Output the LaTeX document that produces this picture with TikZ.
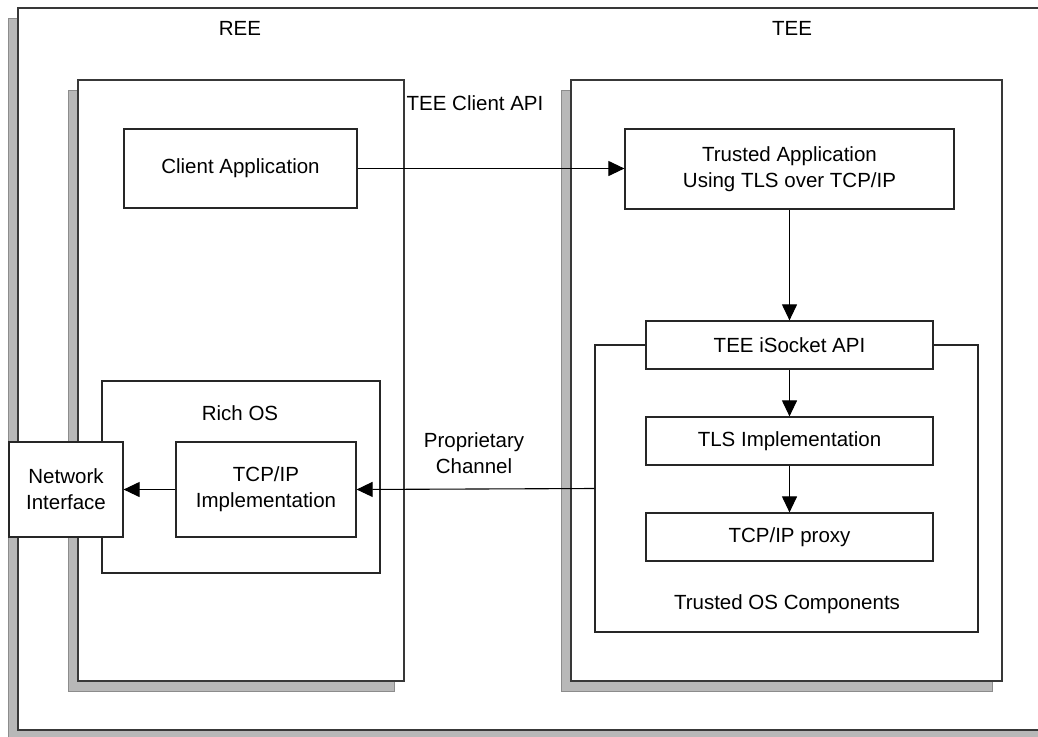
\documentclass[tikz,border=0pt]{standalone}
\usepackage{fontspec}
\setmainfont{Liberation Sans}
\usetikzlibrary{arrows.meta}
\begin{document}
\begin{tikzpicture}[x=1pt,y=-1pt,
  every node/.style={font=\fontsize{20.5}{26}\selectfont, align=center},
  frm/.style={draw=black!78, line width=1.3pt, fill=white, inner sep=0pt},
  shadowbox/.style={draw=black!45, line width=0.6pt, fill=black!28},
  box/.style={draw=black!85, line width=1.2pt, fill=white, inner sep=0pt},
  lbl/.style={inner sep=0pt},
  arr/.style={draw=black, line width=1.1pt, -{Triangle[length=16pt,width=15pt]}}]
\useasboundingbox (0,0) rectangle (1038,736);
\clip (0,0) rectangle (1038,736);
% outer frame
\path[shadowbox] (8,18) rectangle (1040,746);
\node[frm, minimum width=1032pt, minimum height=722pt] (outer) at (534,369) {};
% REE and TEE
\path[shadowbox] (68,90) rectangle (394,691);
\node[frm, minimum width=326pt, minimum height=601pt] (ree) at (241,380.5) {};
\path[shadowbox] (561,90) rectangle (992,691);
\node[frm, minimum width=431pt, minimum height=601pt] (tee) at (786.5,380.5) {};
\node[lbl] (reel) at (240,28) {REE};
\node[lbl] (teel) at (792,28) {TEE};
% REE contents
\node[box, minimum width=233pt, minimum height=79pt] (client) at (240.5,168.5) {\raisebox{-2pt}{Client Application}};
\node[box, minimum width=278pt, minimum height=192pt] (richos) at (241,477) {};
\node[lbl] (richosl) at (240,413) {Rich OS};
\node[box, minimum width=180pt, minimum height=95pt] (tcpimpl) at (266,489.5) {TCP/IP\\Implementation};
\node[box, minimum width=114pt, minimum height=95pt] (net) at (66,489.5) {Network\\Interface};
% TEE contents
\node[box, minimum width=329pt, minimum height=80pt] (ta) at (789.5,169) {Trusted Application\\Using TLS over TCP/IP};
\node[box, minimum width=383pt, minimum height=287pt] (tos) at (786.5,488.5) {};
\node[lbl] (tosl) at (787,604) {Trusted OS Components};
\node[box, minimum width=287pt, minimum height=48pt] (isock) at (789.5,345) {TEE iSocket API};
\node[box, minimum width=287pt, minimum height=48pt] (tls) at (789.5,441) {TLS Implementation};
\node[box, minimum width=287pt, minimum height=48pt] (proxy) at (789.5,537) {TCP/IP proxy};
% labels
\node[lbl] (apil) at (475,103) {TEE Client API};
\node[lbl] (propl) at (474,453) {Proprietary\\Channel};
% arrows
\draw[arr] (client.east) -- (client.east -| ta.west);
\draw[arr] (ta.south) -- (isock.north);
\draw[arr] (isock.south) -- (tls.north);
\draw[arr] (tls.south) -- (proxy.north);
\draw[arr] (tos.west) -- (tcpimpl.east);
\draw[arr] (tcpimpl.west) -- (net.east);
\end{tikzpicture}
\end{document}
